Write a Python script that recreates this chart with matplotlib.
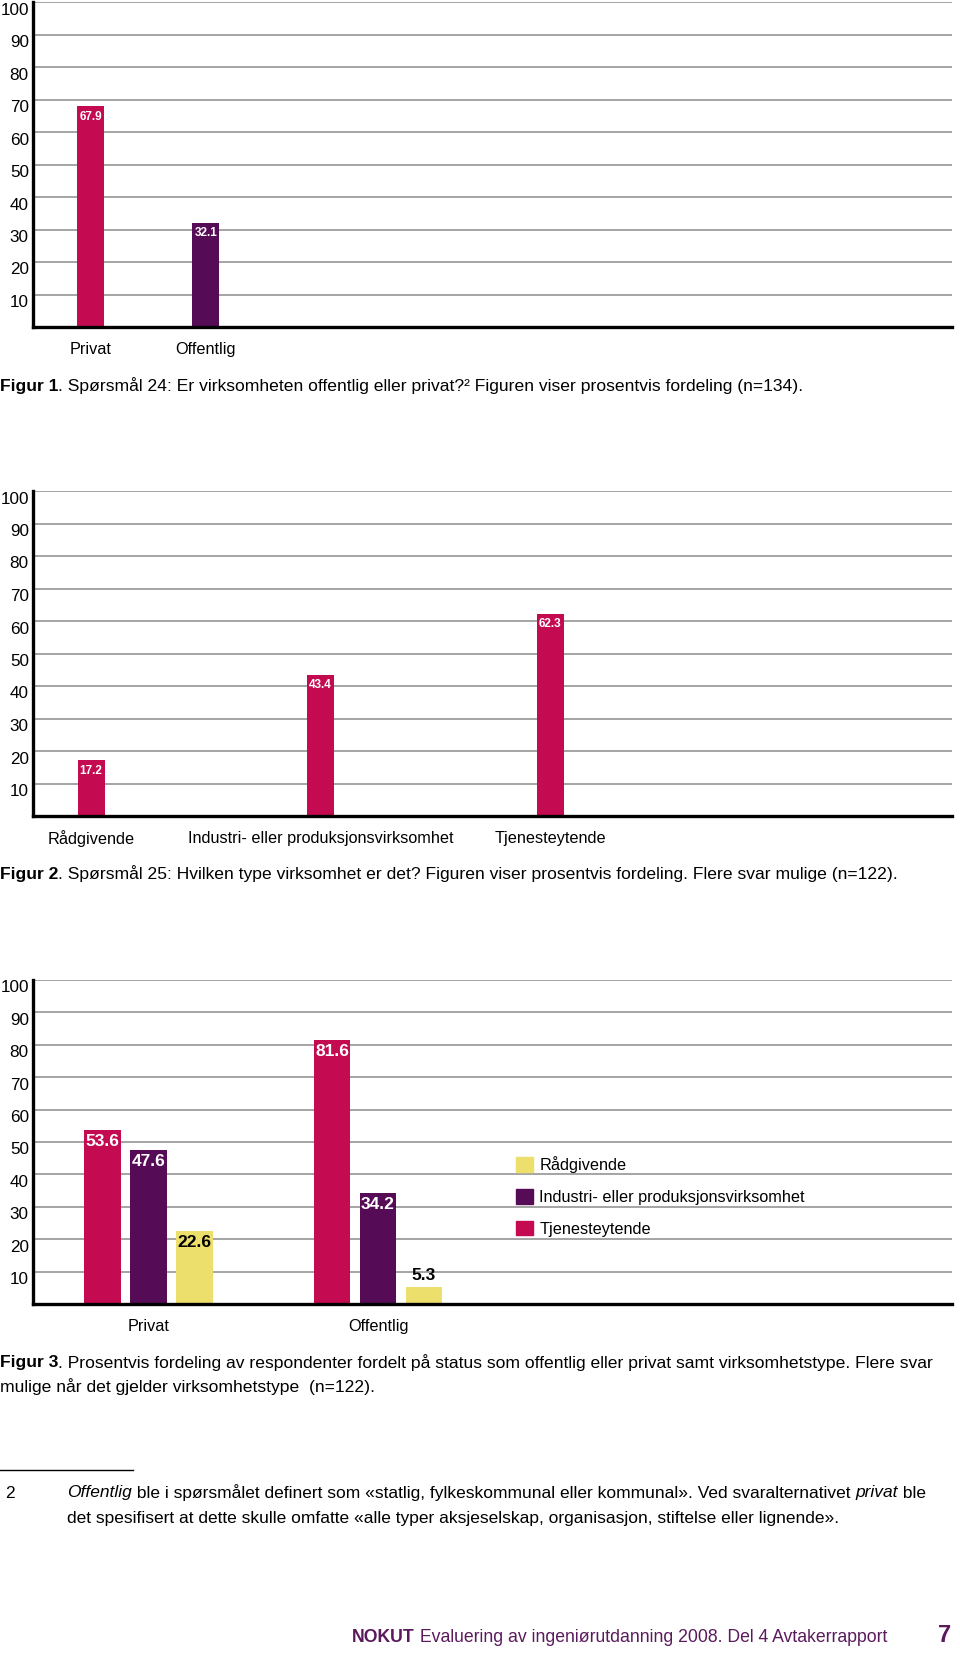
import matplotlib
matplotlib.use("Agg")
import matplotlib.pyplot as plt
from matplotlib.patches import Patch
from matplotlib.transforms import ScaledTranslation

plt.rcParams['font.family'] = ['Liberation Sans Narrow', 'Liberation Sans', 'DejaVu Sans']

# colours
MAGENTA = '#c40a50'
PURPLE = '#560b56'
YELLOW = '#ecdf6c'
GRID = '#8c8c8c'
FOOT = '#5a1a5c'

# Figure 1 data
fig1_cats = ['Privat', 'Offentlig']
fig1_vals = [67.9, 32.1]
fig1_cols = [MAGENTA, PURPLE]

# Figure 2 data
fig2_cats = ['Rådgivende', 'Industri- eller produksjonsvirksomhet', 'Tjenesteytende']
fig2_vals = [17.2, 43.4, 62.3]

# Figure 3 data
fig3_groups = ['Privat', 'Offentlig']
fig3_series = ['Tjenesteytende', 'Industri- eller produksjonsvirksomhet', 'Rådgivende']
fig3_tjenest = [53.6, 81.6]
fig3_industri = [47.6, 34.2]
fig3_radgiv = [22.6, 5.3]

yticks = [10, 20, 30, 40, 50, 60, 70, 80, 90, 100]

W, H = 960, 1653
fig = plt.figure(figsize=(W / 100, H / 100), dpi=100)

LABEL_FS = 11.7
CAP_FS = 12.6


def px_axes(left, top, right, bottom):
    return fig.add_axes([left / W, 1 - bottom / H, (right - left) / W, (bottom - top) / H])


def style_axes(ax):
    ax.set_ylim(0, 100)
    ax.set_yticks(yticks)
    ax.set_yticklabels([str(t) for t in yticks], family=['Liberation Sans', 'DejaVu Sans'], fontsize=12.3)
    ax.tick_params(axis='y', length=0, pad=3)
    ax.set_xticks([])
    # labels sit just under their gridline, as in the original
    shift = ScaledTranslation(0, -6.5 / 100, fig.dpi_scale_trans)
    for lbl in ax.get_yticklabels():
        lbl.set_transform(lbl.get_transform() + shift)
    for t in yticks:
        ax.axhline(t, color=GRID, lw=1.1, zorder=0)
    for s in ['top', 'right']:
        ax.spines[s].set_visible(False)
    for s in ['left', 'bottom']:
        ax.spines[s].set_linewidth(2.4)
        ax.spines[s].set_zorder(5)


def fig_text(x, y, s, **kw):
    return fig.text(x / W, 1 - y / H, s, va='center', **kw)


renderer = fig.canvas.get_renderer()


def rich_text(x, y, parts, size=CAP_FS):
    # draw a line made of several styled pieces
    for s, props in parts:
        t = fig_text(x, y, s, fontsize=size, **props)
        bb = t.get_window_extent(renderer)
        x = bb.x1


# ---- Figur 1 ----
ax1 = px_axes(33, 2, 952, 327)
style_axes(ax1)
x1 = list(range(len(fig1_cats)))
ax1.bar(x1, fig1_vals, width=0.235, color=fig1_cols, zorder=2)
ax1.set_xlim(-0.504, 7.49)
for xi, v in zip(x1, fig1_vals):
    ax1.text(xi, v - 3.2, f'{v}', ha='center', va='center', color='white',
             fontsize=8.5, fontweight='bold')
    ax1.text(xi, -7.0, fig1_cats[xi], ha='center', va='center', fontsize=LABEL_FS, clip_on=False)

rich_text(0, 386, [('Figur 1', {'fontweight': 'bold'}),
                   ('. Spørsmål 24: Er virksomheten offentlig eller privat?² Figuren viser prosentvis fordeling (n=134).', {})])

# ---- Figur 2 ----
ax2 = px_axes(33, 491, 952, 816)
style_axes(ax2)
x2 = list(range(len(fig2_cats)))
ax2.bar(x2, fig2_vals, width=0.118, color=MAGENTA, zorder=2)
ax2.set_xlim(-0.253, 3.75)
for xi, v in zip(x2, fig2_vals):
    ax2.text(xi, v - 3.2, f'{v}', ha='center', va='center', color='white',
             fontsize=8.5, fontweight='bold')
    ax2.text(xi, -6.8, fig2_cats[xi], ha='center', va='center', fontsize=LABEL_FS, clip_on=False)

rich_text(0, 874, [('Figur 2', {'fontweight': 'bold'}),
                   ('. Spørsmål 25: Hvilken type virksomhet er det? Figuren viser prosentvis fordeling. Flere svar mulige (n=122).', {})])

# ---- Figur 3 ----
ax3 = px_axes(33, 980, 952, 1304)
style_axes(ax3)
x3 = list(range(len(fig3_groups)))
step = 0.2
bw = 0.159
series_vals = [fig3_tjenest, fig3_industri, fig3_radgiv]
series_cols = [MAGENTA, PURPLE, YELLOW]
for k, (vals, col) in enumerate(zip(series_vals, series_cols)):
    xs = [xi + (k - 1) * step for xi in x3]
    ax3.bar(xs, vals, width=bw, color=col, zorder=2)
    for xx, v in zip(xs, vals):
        tc = 'black' if col == YELLOW else 'white'
        yy = v - 3.6
        if v < 8:
            yy = v + 3.4
            tc = 'black'
        ax3.text(xx, yy, f'{v}', ha='center', va='center', color=tc,
                 fontsize=12.5, fontweight='bold')
ax3.set_xlim(-0.503, 3.5)
for xi in x3:
    ax3.text(xi, -7.0, fig3_groups[xi], ha='center', va='center', fontsize=LABEL_FS, clip_on=False)

handles = [Patch(color=c, label=l) for c, l in zip(series_cols[::-1], fig3_series[::-1])]
ax3.legend(handles=handles, loc='upper left', bbox_to_anchor=(0.526, 0.457),
           frameon=False, fontsize=LABEL_FS, handlelength=1.0, handleheight=1.0,
           handletextpad=0.4, labelspacing=0.99, borderaxespad=0, borderpad=0)

rich_text(0, 1363, [('Figur 3', {'fontweight': 'bold'}),
                    ('. Prosentvis fordeling av respondenter fordelt på status som offentlig eller privat samt virksomhetstype. Flere svar', {})])
fig_text(0, 1387, 'mulige når det gjelder virksomhetstype  (n=122).', fontsize=CAP_FS)

# footnote
fig.add_artist(plt.Line2D([0, 133 / W], [1 - 1470 / H, 1 - 1470 / H], color='black', lw=1.0))
fig_text(5, 1493, '2', fontsize=12.5)
rich_text(67, 1493, [('Offentlig', {'fontstyle': 'italic'}),
                     (' ble i spørsmålet definert som «statlig, fylkeskommunal eller kommunal». Ved svaralternativet ', {}),
                     ('privat', {'fontstyle': 'italic'}),
                     (' ble', {})], size=12.55)
fig_text(67, 1518, 'det spesifisert at dette skulle omfatte «alle typer aksjeselskap, organisasjon, stiftelse eller lignende».', fontsize=12.55)

# footer
rich_text(352, 1637, [('NOKUT', {'fontweight': 'bold', 'color': FOOT}),
                      (' Evaluering av ingeniørutdanning 2008. Del 4 Avtakerrapport', {'color': FOOT})], size=12.7)
fig_text(945, 1635, '7', fontsize=17, fontweight='bold', color=FOOT, ha='center')

fig.savefig('out.png', dpi=100)
